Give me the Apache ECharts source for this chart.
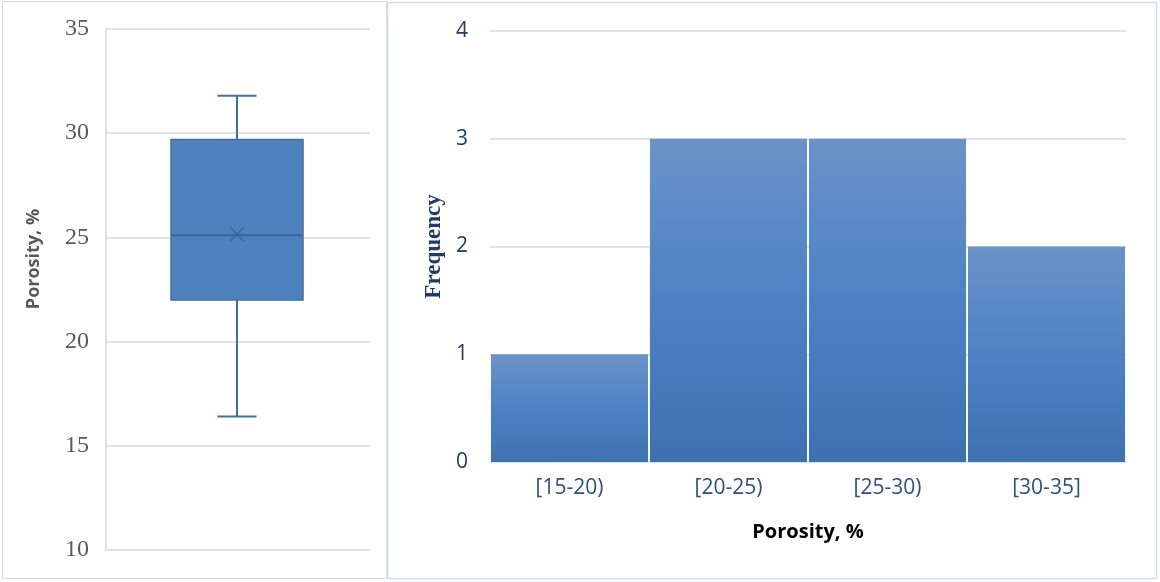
<!DOCTYPE html>
<html>
<head>
<meta charset="utf-8">
<script src="https://cdn.jsdelivr.net/npm/echarts@6/dist/echarts.min.js"></script>
<style>
html,body{margin:0;padding:0;background:#fff;}
#main{width:1160px;height:582px;}
</style>
</head>
<body>
<div id="main"></div>
<script>
// ---- Data ----
const boxCategory = ['Porosity'];
// [min, Q1, median, Q3, max, mean]
const boxStats = [16.4, 22.0, 25.1, 29.7, 31.8, 25.15];
const boxTicks = [10, 15, 20, 25, 30, 35];

const histCategories = ['[15-20)', '[20-25)', '[25-30)', '[30-35]'];
const histFrequency = [1, 3, 3, 2];
const histTicks = [0, 1, 2, 3, 4];

const chart = echarts.init(document.getElementById('main'), null, {renderer: 'canvas'});

const sans = "'Open Sans', 'Noto Sans', sans-serif";

const option = {
  animation: false,
  backgroundColor: '#ffffff',
  graphic: [
    {type: 'rect', shape: {x: 2.5, y: 1.5, width: 384, height: 577}, style: {fill: 'none', stroke: '#d9d9d9', lineWidth: 1}, z: 100},
    {type: 'rect', shape: {x: 387.5, y: 2.5, width: 769, height: 576}, style: {fill: 'none', stroke: '#d3dde9', lineWidth: 1.5}, z: 100},
    {type: 'text', x: 34, y: 259, rotation: Math.PI / 2,
      style: {text: 'Porosity, %', fill: '#595959', font: "bold 18px 'Open Sans', sans-serif", align: 'center', verticalAlign: 'middle'}}
  ],
  grid: [
    {left: 106, top: 29, width: 264, height: 521},
    {left: 490, top: 31, width: 636, height: 431}
  ],
  xAxis: [
    {
      gridIndex: 0, type: 'category', data: boxCategory,
      axisLine: {show: false}, axisTick: {show: false}, axisLabel: {show: false}
    },
    {
      gridIndex: 1, type: 'category', data: histCategories,
      axisLine: {show: true, lineStyle: {color: '#d9e4f2', width: 2}},
      axisTick: {show: false},
      axisLabel: {color: '#2e4f7f', fontFamily: sans, fontSize: 21, margin: 16},
      name: 'Porosity, %', nameLocation: 'middle', nameGap: 60,
      nameTextStyle: {color: '#000000', fontFamily: sans, fontSize: 20, fontWeight: 'bold'}
    }
  ],
  yAxis: [
    {
      gridIndex: 0, type: 'value', min: boxTicks[0], max: boxTicks[boxTicks.length - 1], interval: 5,
      axisLine: {show: true, lineStyle: {color: '#d9d9d9', width: 1.5}},
      axisTick: {show: false},
      splitLine: {show: true, lineStyle: {color: '#d9d9d9', width: 1.5}},
      axisLabel: {color: '#595959', fontFamily: "'Liberation Serif', 'DejaVu Serif', serif", fontSize: 24, margin: 17}
    },
    {
      gridIndex: 1, type: 'value', min: histTicks[0], max: histTicks[histTicks.length - 1], interval: 1,
      axisLine: {show: false}, axisTick: {show: false},
      splitLine: {show: true, lineStyle: {color: '#d9e4f2', width: 2}},
      axisLabel: {color: '#1f3b66', fontFamily: sans, fontSize: 21, margin: 22},
      name: 'Frequency', nameLocation: 'middle', nameGap: 43, nameRotate: 90,
      nameTextStyle: {color: '#1f3b66', fontFamily: "'Liberation Serif', serif", fontSize: 23, fontWeight: 'bold'}
    }
  ],
  series: [
    {
      type: 'custom',
      xAxisIndex: 0, yAxisIndex: 0,
      data: [[0].concat(boxStats)],
      encode: {x: 0, y: [1, 2, 3, 4, 5, 6]},
      renderItem: function (params, api) {
        const x = api.value(0);
        const pMin = api.coord([x, api.value(1)]);
        const pQ1 = api.coord([x, api.value(2)]);
        const pMed = api.coord([x, api.value(3)]);
        const pQ3 = api.coord([x, api.value(4)]);
        const pMax = api.coord([x, api.value(5)]);
        const pMean = api.coord([x, api.value(6)]);
        const band = api.size([1, 0])[0];
        const half = band * 0.25;
        const cap = band * 0.074;
        const cx = pMed[0] - 1;
        const stroke = '#41719c';
        const lw = 2;
        const m = 7;
        return {
          type: 'group',
          children: [
            {type: 'line', shape: {x1: cx, y1: pMax[1], x2: cx, y2: pQ3[1]}, style: {stroke: stroke, lineWidth: lw}},
            {type: 'line', shape: {x1: cx - cap, y1: pMax[1], x2: cx + cap, y2: pMax[1]}, style: {stroke: stroke, lineWidth: lw}},
            {type: 'line', shape: {x1: cx, y1: pQ1[1], x2: cx, y2: pMin[1]}, style: {stroke: stroke, lineWidth: lw}},
            {type: 'line', shape: {x1: cx - cap, y1: pMin[1], x2: cx + cap, y2: pMin[1]}, style: {stroke: stroke, lineWidth: lw}},
            {type: 'rect', shape: {x: cx - half, y: pQ3[1], width: half * 2, height: pQ1[1] - pQ3[1]},
              style: {fill: '#4f81bd', stroke: '#41719c', lineWidth: 1.5}},
            {type: 'line', shape: {x1: cx - half, y1: pMed[1], x2: cx + half, y2: pMed[1]}, style: {stroke: '#3c6496', lineWidth: 2}},
            {type: 'line', shape: {x1: cx - m, y1: pMean[1] - m, x2: cx + m, y2: pMean[1] + m}, style: {stroke: '#3c6496', lineWidth: 1.5}},
            {type: 'line', shape: {x1: cx - m, y1: pMean[1] + m, x2: cx + m, y2: pMean[1] - m}, style: {stroke: '#3c6496', lineWidth: 1.5}}
          ]
        };
      },
      z: 5
    },
    {
      type: 'bar',
      xAxisIndex: 1, yAxisIndex: 1,
      data: histFrequency,
      barCategoryGap: '1.2%',
      itemStyle: {
        color: {
          type: 'linear', x: 0, y: 0, x2: 0, y2: 1,
          colorStops: [
            {offset: 0, color: '#6b93c8'},
            {offset: 0.5, color: '#4c82c4'},
            {offset: 1, color: '#3d71b2'}
          ]
        }
      },
      z: 5
    }
  ]
};

chart.setOption(option);
</script>
</body>
</html>
